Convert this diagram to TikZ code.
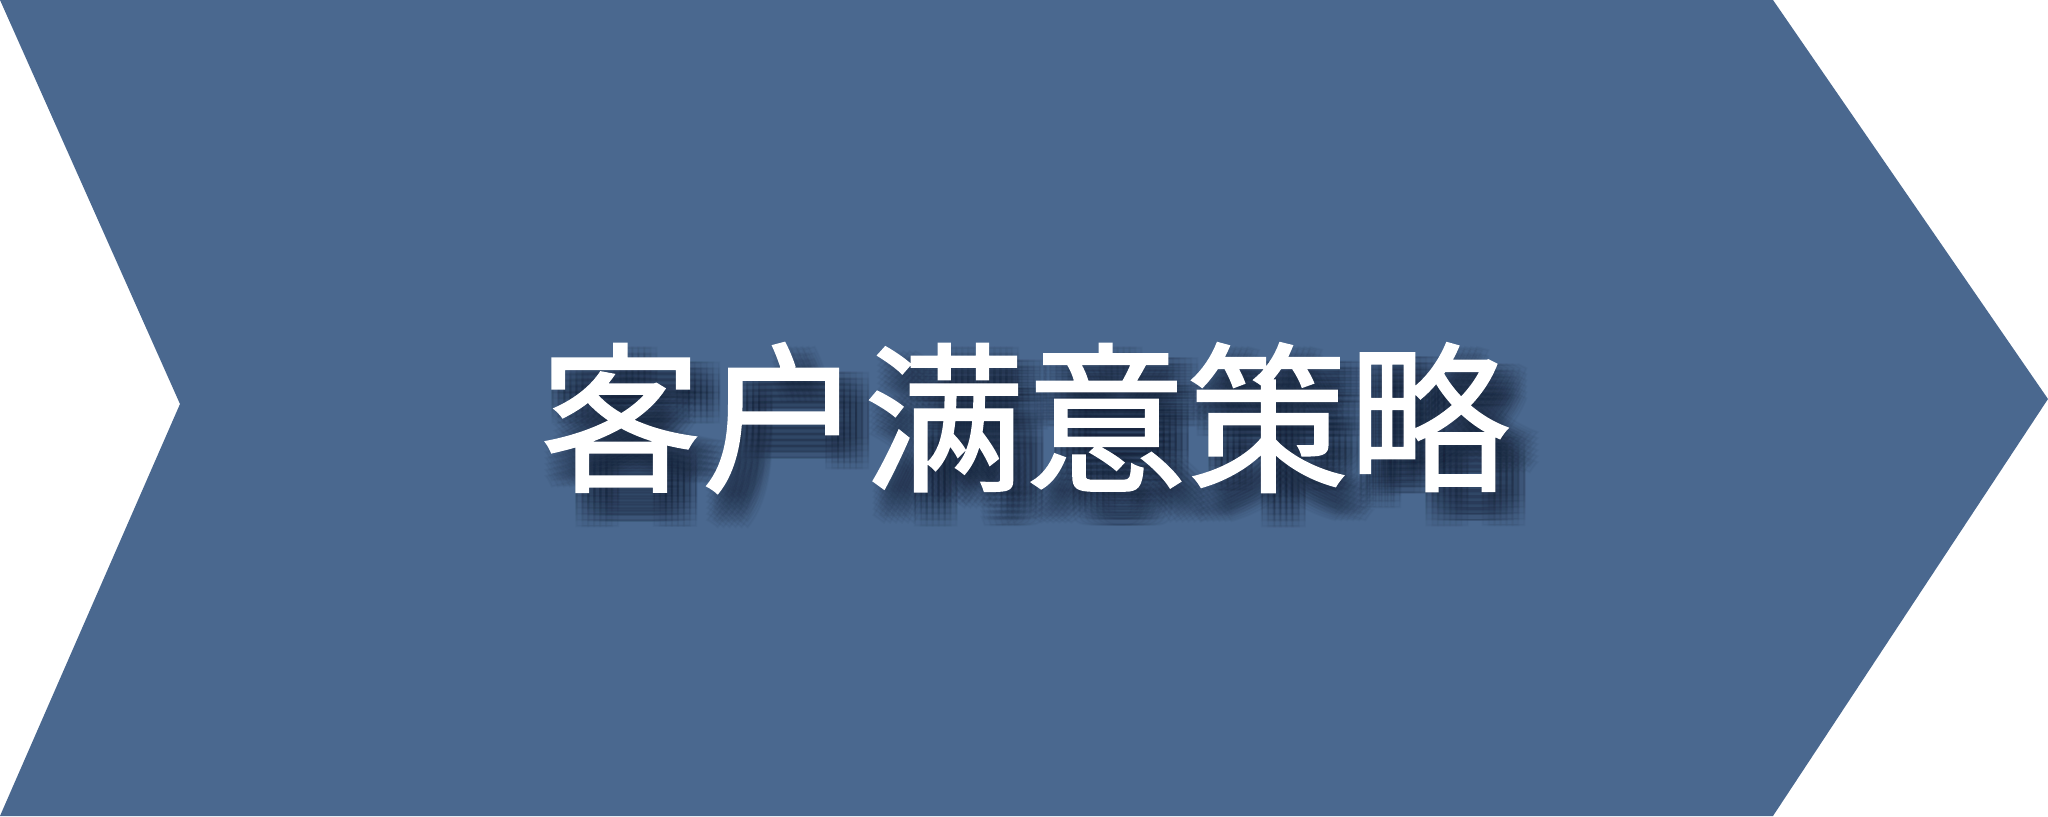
\documentclass[tikz,border=0pt]{standalone}
\definecolor{chevblue}{RGB}{74, 104, 143}
\definecolor{shadenavy}{RGB}{24, 34, 54}
\usepackage{fontspec}
\newfontfamily\cjkfont{Noto Sans CJK JP}[FakeBold=1.2]
\usetikzlibrary{positioning}
\tikzset{
  titletext/.style={font=\cjkfont\fontsize{46}{46}\selectfont, inner sep=0pt}
}

\begin{document}
\begin{tikzpicture}
  \useasboundingbox (0, 0) rectangle (20.48, 8.16);

  % Chevron
  \fill[chevblue] (0, 8.16) -- (17.73, 8.16) -- (20.48, 4.17) -- (17.73, 0)
    -- (0, 0) -- (1.80, 4.12) -- cycle;

  % Soft shadow under the title
  \foreach \dx in {0.00, 0.06, 0.12, 0.18, 0.24, 0.30}
    \foreach \dy in {-0.04, -0.10, -0.16, -0.22, -0.28, -0.34}
      \node[titletext, text=shadenavy, opacity=0.045] at (10.25+\dx, 3.98+\dy) {客户满意策略};

  % Title
  \node[titletext, text=white] (title) at (10.25, 3.98) {客户满意策略};
\end{tikzpicture}
\end{document}
